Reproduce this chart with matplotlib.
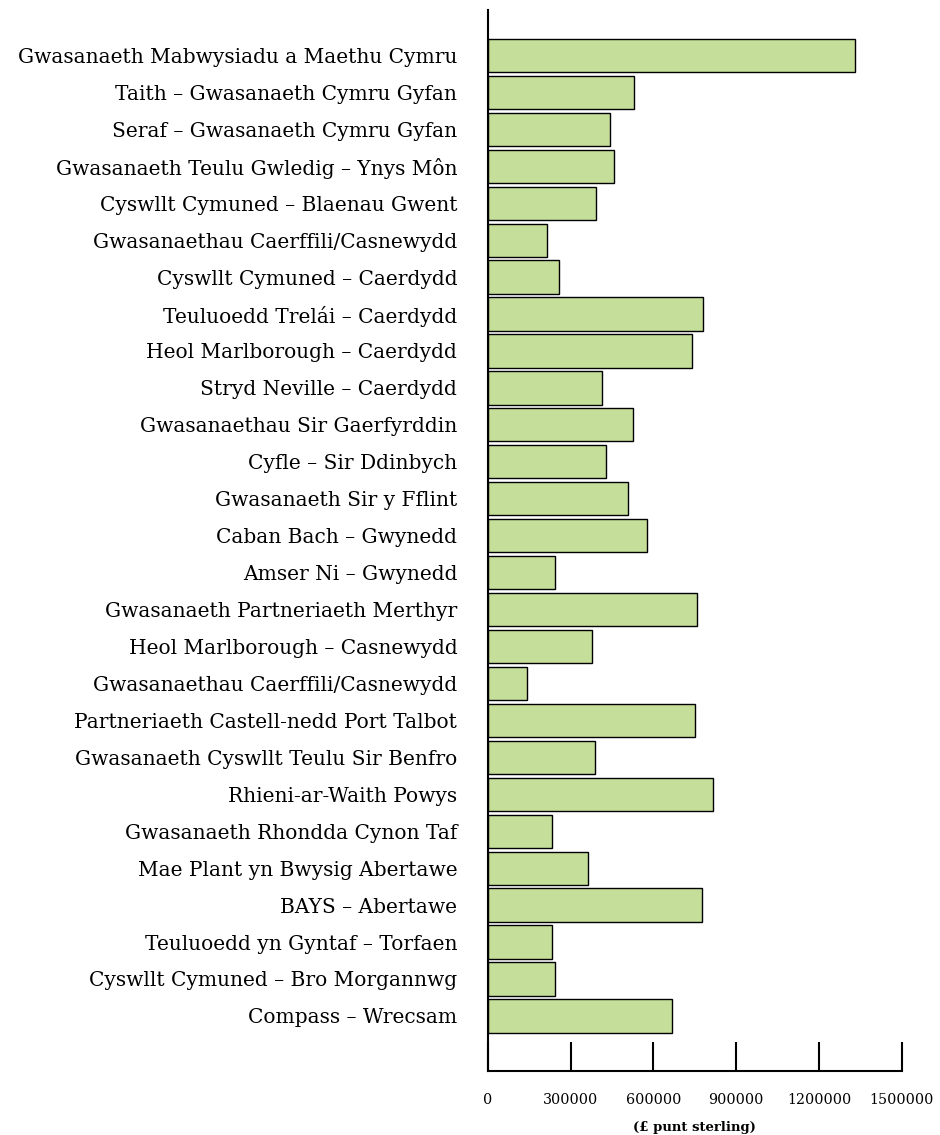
import numpy as np
import matplotlib
matplotlib.use("Agg")
import matplotlib.pyplot as plt

services = [
    "Gwasanaeth Mabwysiadu a Maethu Cymru",
    "Taith – Gwasanaeth Cymru Gyfan",
    "Seraf – Gwasanaeth Cymru Gyfan",
    "Gwasanaeth Teulu Gwledig – Ynys Môn",
    "Cyswllt Cymuned – Blaenau Gwent",
    "Gwasanaethau Caerffili/Casnewydd",
    "Cyswllt Cymuned – Caerdydd",
    "Teuluoedd Trelái – Caerdydd",
    "Heol Marlborough – Caerdydd",
    "Stryd Neville – Caerdydd",
    "Gwasanaethau Sir Gaerfyrddin",
    "Cyfle – Sir Ddinbych",
    "Gwasanaeth Sir y Fflint",
    "Caban Bach – Gwynedd",
    "Amser Ni – Gwynedd",
    "Gwasanaeth Partneriaeth Merthyr",
    "Heol Marlborough – Casnewydd",
    "Gwasanaethau Caerffili/Casnewydd",
    "Partneriaeth Castell-nedd Port Talbot",
    "Gwasanaeth Cyswllt Teulu Sir Benfro",
    "Rhieni-ar-Waith Powys",
    "Gwasanaeth Rhondda Cynon Taf",
    "Mae Plant yn Bwysig Abertawe",
    "BAYS – Abertawe",
    "Teuluoedd yn Gyntaf – Torfaen",
    "Cyswllt Cymuned – Bro Morgannwg",
    "Compass – Wrecsam",
]

funding = [
    1330000, 531000, 441000, 456000, 393000, 214000, 256000, 780000,
    738000, 413000, 527000, 429000, 506000, 578000, 245000, 757000,
    379000, 143000, 749000, 388000, 815000, 234000, 362000, 775000,
    232000, 244000, 667000,
]

xticks = [0, 300000, 600000, 900000, 1200000, 1500000]

plt.rcParams["font.family"] = ["DejaVu Serif"]

fig = plt.figure(figsize=(9.4, 11.35), dpi=100)
ax = fig.add_axes([0.519, 0.0564, 0.4405, 0.9348])

y = np.arange(len(services))
ax.barh(y, funding, height=0.9, color="#c5df9b", edgecolor="black", linewidth=1)

ax.set_yticks(y)
ax.set_yticklabels(services, fontsize=14.5)
ax.tick_params(axis="y", length=0, pad=22)
ax.set_ylim(len(services) - 1 + 1.49, -1.23)

ax.set_xlim(0, 1500000)
ax.set_xticks(xticks)
ax.set_xticklabels([str(t) for t in xticks], fontsize=10.3)
ax.tick_params(axis="x", direction="in", length=21, width=1.5, pad=16)

for s in ["top", "right"]:
    ax.spines[s].set_visible(False)
ax.spines["left"].set_linewidth(1.5)
ax.spines["bottom"].set_linewidth(1.5)

ax.set_xlabel("(£ punt sterling)", fontsize=9.5, fontweight="bold", labelpad=10)

fig.savefig("out.png", dpi=100)
